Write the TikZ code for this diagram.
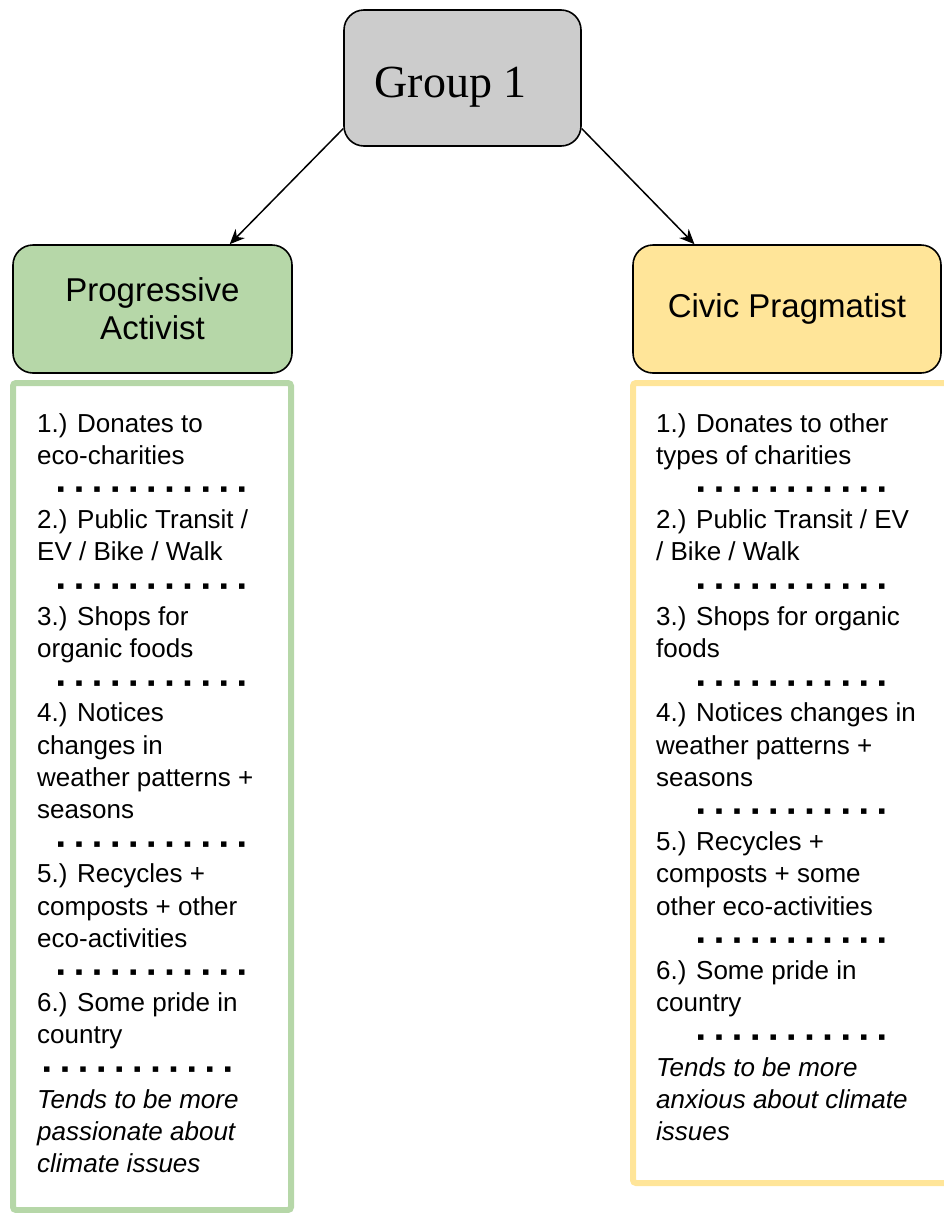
\documentclass[tikz,border=0pt]{standalone}
\usepackage{fontspec}
\setmainfont{Liberation Sans}
\newfontfamily\grouptitlefont{Liberation Serif}
\newfontfamily\dotfont{DejaVu Sans}
\usepackage{tikz}
\usetikzlibrary{arrows.meta,positioning}
\definecolor{paGreen}{HTML}{B6D7A8}
\definecolor{cpYellow}{HTML}{FFE599}
\definecolor{groupGray}{HTML}{CCCCCC}
\newcommand{\dotrow}[1][20pt]{\hspace*{#1}\foreach \k in {1,...,11}{\makebox[18.1pt][l]{\raisebox{3.5pt}{\dotfont\fontsize{11}{11}\selectfont ▪}}}}

\begin{document}
\begin{tikzpicture}[x=1pt,y=-1pt,
    topbox/.style={draw, line width=1.6pt, rounded corners=20pt, align=center, inner sep=0pt},
    listframe/.style={line width=6pt, rounded corners=3pt},
    listtext/.style={anchor=base west, align=left, inner sep=0pt, font=\fontsize{26}{32.2}\selectfont},
    link/.style={-{Stealth[length=15pt,width=13pt]}, line width=1.5pt}]
    \useasboundingbox (0,0) rectangle (943,1213);

    % Group box
    \node[topbox, fill=groupGray, minimum width=237pt, minimum height=136pt,
        text height=38pt, text depth=0pt,
        font=\grouptitlefont\fontsize{46}{50}\selectfont] (group) at (462.5,78) {Group 1\hspace{24pt}};

    % Segment boxes
    \node[topbox, fill=paGreen, minimum width=279pt, minimum height=128pt,
        font=\fontsize{33}{38}\selectfont] (pa) at (152.5,309) {Progressive\\Activist};
    \node[topbox, fill=cpYellow, minimum width=308pt, minimum height=128pt,
        font=\fontsize{33}{38}\selectfont] (cp) at (787,309) {Civic Pragmatist};

    % Arrows
    \draw[link] (group.203) -- (pa.40);
    \draw[link] (group.-23) -- (cp.145);

    % List frames
    \draw[listframe, paGreen] (13,383) rectangle (291,1210);
    \draw[listframe, cpYellow] (633,383) rectangle (952,1183);

    % Progressive Activist traits (placed by the baseline of the last line)
    \node[listtext] (patraits) at (37,1172.6) {1.) Donates to\\eco-charities\\\dotrow\\
        2.) Public Transit /\\EV / Bike / Walk\\\dotrow\\
        3.) Shops for\\organic foods\\\dotrow\\
        4.) Notices\\changes in\\weather patterns +\\seasons\\\dotrow\\
        5.) Recycles +\\composts + other\\eco-activities\\\dotrow\\
        6.) Some pride in\\country\\\dotrow[6pt]\\
        \textit{Tends to be more}\\\textit{passionate about}\\\textit{climate issues}};

    % Civic Pragmatist traits
    \node[listtext] (cptraits) at (656,1140.4) {1.) Donates to other\\types of charities\\\dotrow[41pt]\\
        2.) Public Transit / EV\\/ Bike / Walk\\\dotrow[41pt]\\
        3.) Shops for organic\\foods\\\dotrow[41pt]\\
        4.) Notices changes in\\weather patterns +\\seasons\\\dotrow[41pt]\\
        5.) Recycles +\\composts + some\\other eco-activities\\\dotrow[41pt]\\
        6.) Some pride in\\country\\\dotrow[41pt]\\
        \textit{Tends to be more}\\\textit{anxious about climate}\\\textit{issues}};
\end{tikzpicture}
\end{document}
